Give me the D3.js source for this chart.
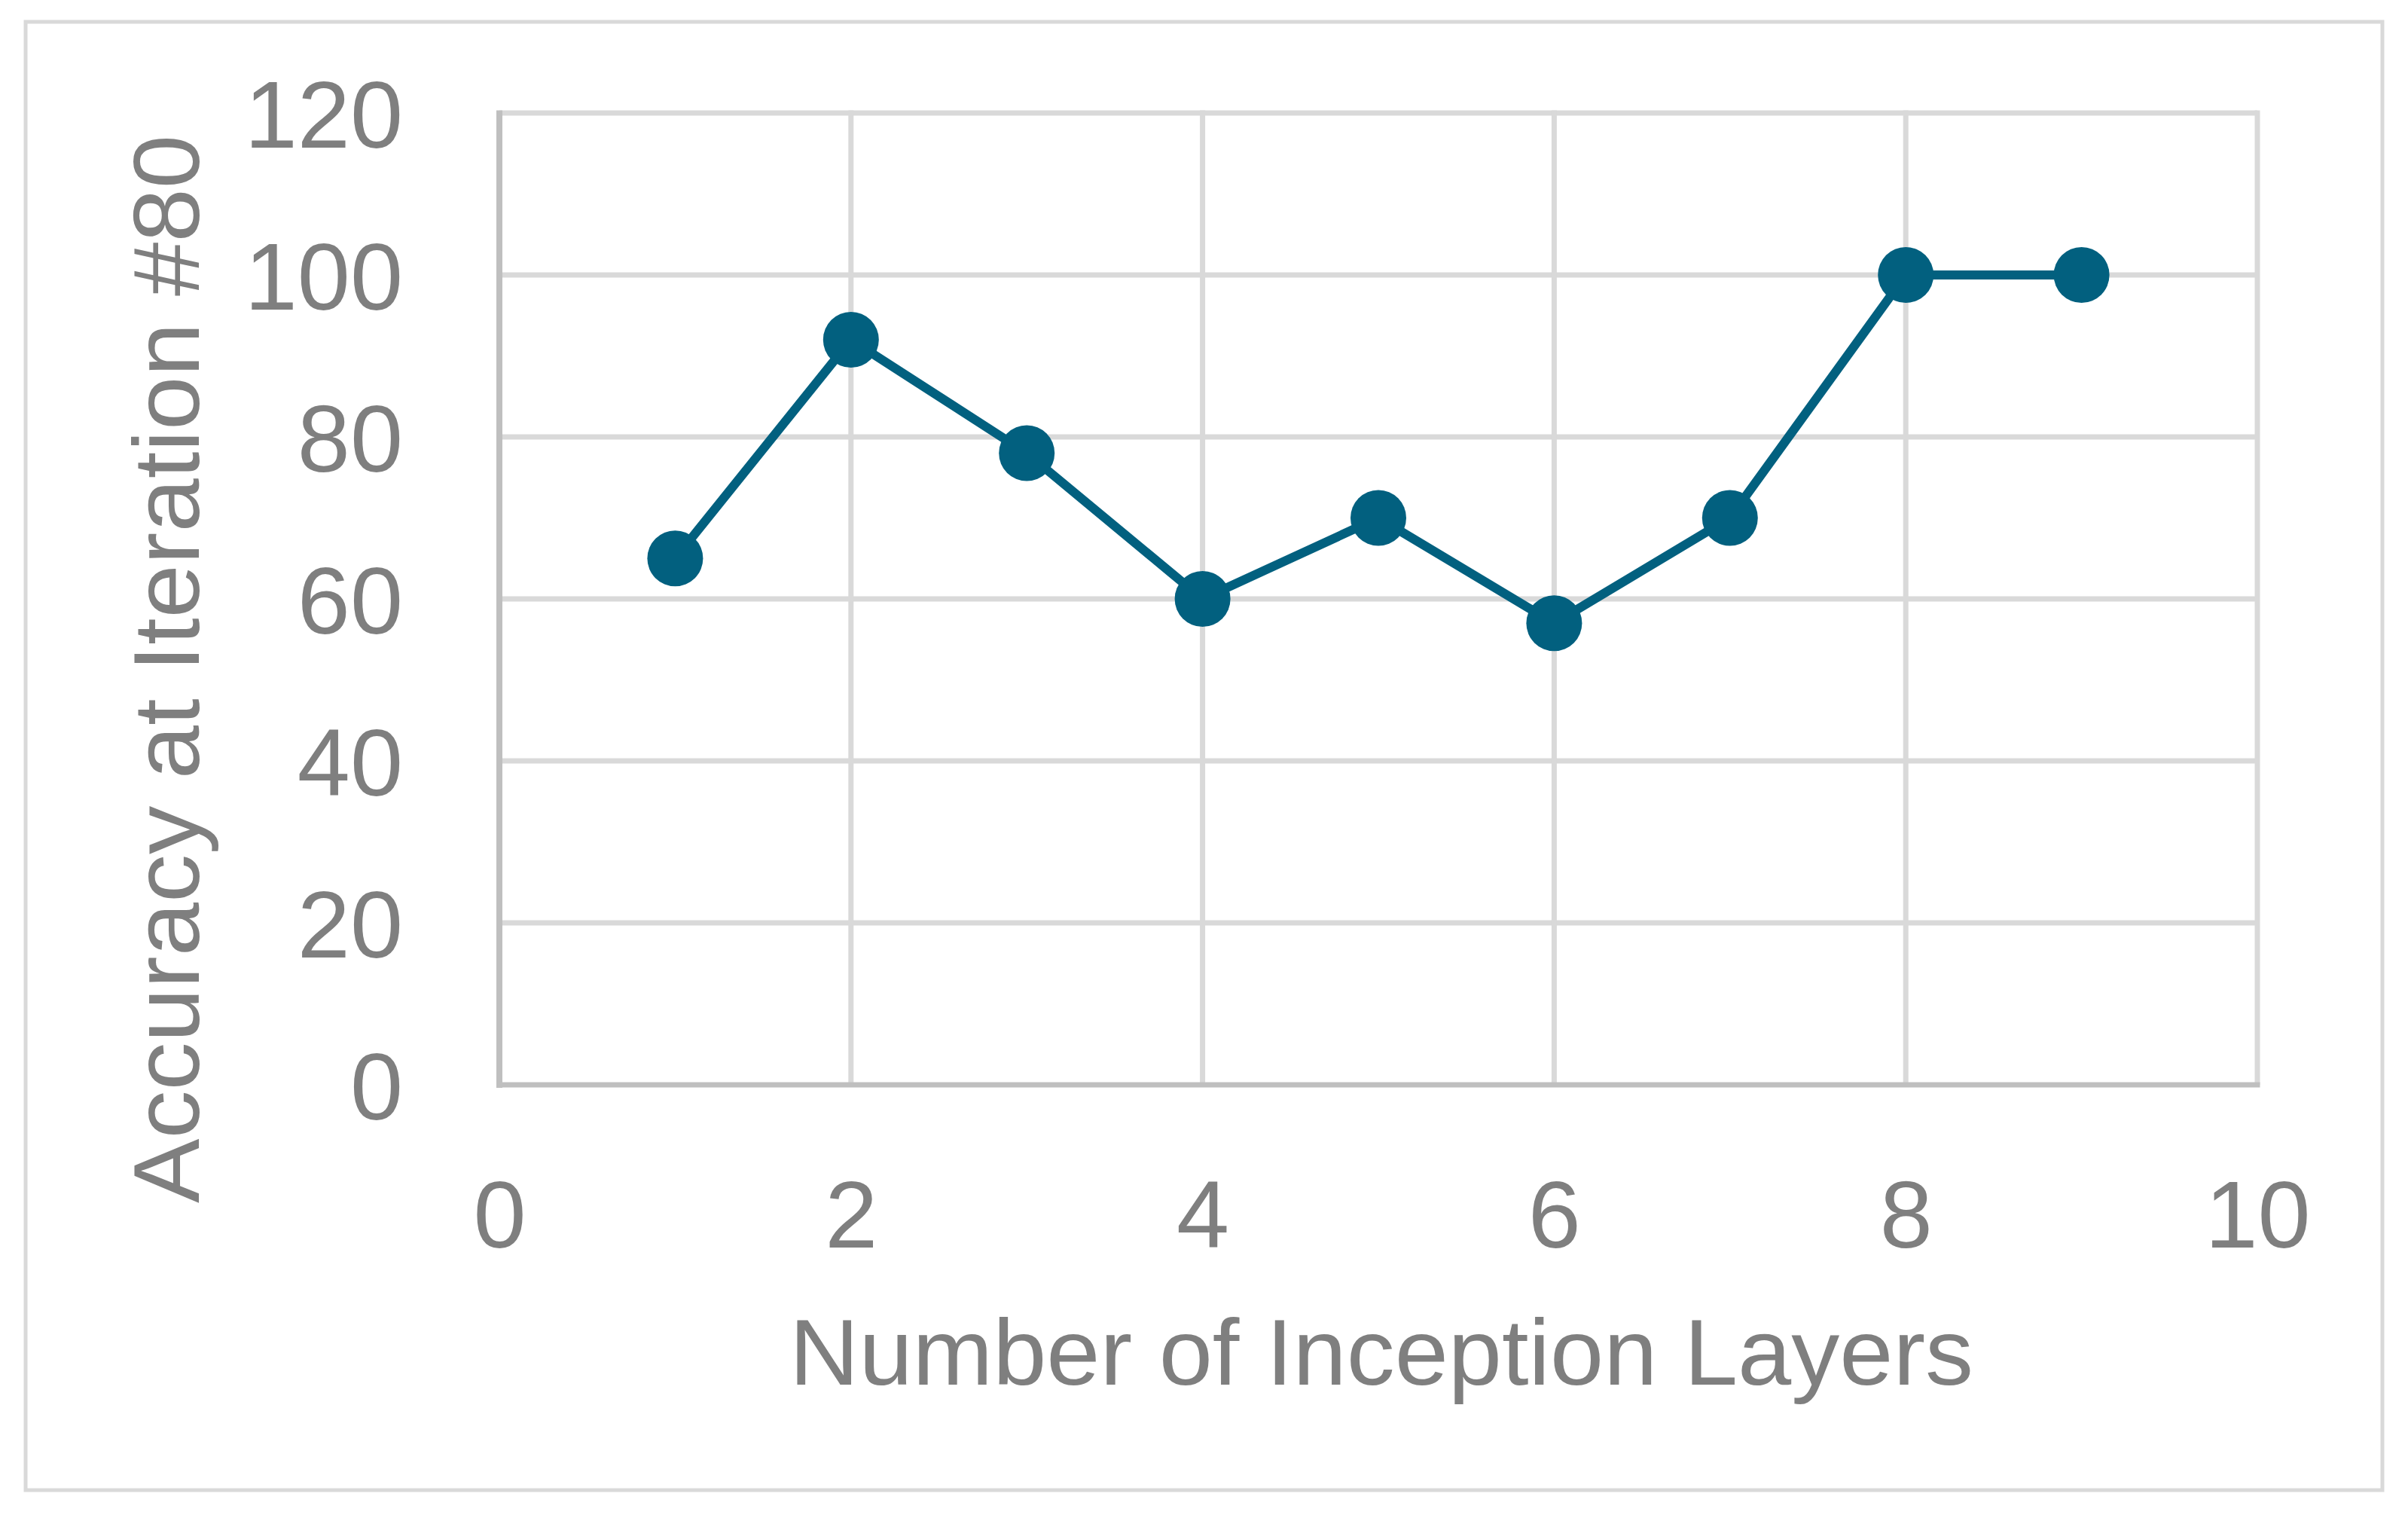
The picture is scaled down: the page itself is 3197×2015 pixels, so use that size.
<!DOCTYPE html>
<html>
<head>
<meta charset="utf-8">
<script src="https://cdn.jsdelivr.net/npm/d3@7"></script>
<style>
  html, body { margin: 0; padding: 0; background: #ffffff; }
  svg { display: block; }
  text { font-family: "Liberation Sans", Arial, sans-serif; fill: #7f7f7f; }
</style>
</head>
<body>
<svg id="chart" width="3197" height="2015"></svg>
<script>
const layers = [1, 2, 3, 4, 5, 6, 7, 8, 9];
const accuracy = [65, 92, 78, 60, 70, 57, 70, 100, 100];
const xTicks = [0, 2, 4, 6, 8, 10];
const yTicks = [0, 20, 40, 60, 80, 100, 120];
const xTitle = "Number of Inception Layers";
const yTitle = "Accuracy at Iteration #80";

const svg = d3.select("#chart");
const W = 3197, H = 2015;
const plot = { left: 663, right: 2997, top: 150, bottom: 1440 };

svg.append("rect").attr("x", 0).attr("y", 0).attr("width", W).attr("height", H).attr("fill", "#fff");
svg.append("rect")
  .attr("x", 34).attr("y", 29).attr("width", 3163 - 34).attr("height", 1978 - 29)
  .attr("fill", "none").attr("stroke", "#d9d9d9").attr("stroke-width", 5);

const x = d3.scaleLinear().domain([0, 10]).range([plot.left, plot.right]);
const y = d3.scaleLinear().domain([0, 120]).range([plot.bottom, plot.top]);

// gridlines
const grid = svg.append("g");
grid.selectAll("line.h").data(yTicks.filter(d => d > 0)).join("line")
  .attr("x1", plot.left).attr("x2", plot.right)
  .attr("y1", d => y(d)).attr("y2", d => y(d))
  .attr("stroke", "#d9d9d9").attr("stroke-width", 7);
grid.selectAll("line.v").data(xTicks.filter(d => d > 0)).join("line")
  .attr("x1", d => x(d)).attr("x2", d => x(d))
  .attr("y1", plot.top - 3.5).attr("y2", plot.bottom)
  .attr("stroke", "#d9d9d9").attr("stroke-width", 7);

// axes lines
svg.append("line").attr("x1", plot.left).attr("x2", plot.left)
  .attr("y1", plot.top - 3.5).attr("y2", plot.bottom + 4)
  .attr("stroke", "#bfbfbf").attr("stroke-width", 8);
svg.append("line").attr("x1", plot.left - 4).attr("x2", plot.right + 3.5)
  .attr("y1", plot.bottom).attr("y2", plot.bottom)
  .attr("stroke", "#bfbfbf").attr("stroke-width", 7);

// axis labels via d3 axes (no domain / tick lines)
const yAxis = svg.append("g").attr("transform", `translate(${plot.left - 128},0)`)
  .call(d3.axisLeft(y).tickValues(yTicks).tickSize(0).tickPadding(0));
yAxis.select(".domain").remove();
yAxis.selectAll("text").attr("font-size", 126).attr("dy", "0.36em")
  .style("font-family", "'Liberation Sans', Arial, sans-serif").style("fill", "#7f7f7f");

const xAxis = svg.append("g").attr("transform", `translate(0,${plot.bottom})`)
  .call(d3.axisBottom(x).tickValues(xTicks).tickSize(0).tickPadding(0));
xAxis.select(".domain").remove();
xAxis.selectAll("text").attr("font-size", 126).attr("dy", 0).attr("y", 216)
  .style("font-family", "'Liberation Sans', Arial, sans-serif").style("fill", "#7f7f7f");

// titles
svg.append("text").attr("x", (plot.left + plot.right) / 2 + 4).attr("y", 1838)
  .attr("text-anchor", "middle").attr("font-size", 124)
  .attr("textLength", 1572).attr("lengthAdjust", "spacingAndGlyphs")
  .text(xTitle);
svg.append("text")
  .attr("transform", `translate(264,888) rotate(-90)`)
  .attr("text-anchor", "middle").attr("font-size", 124)
  .attr("textLength", 1418).attr("lengthAdjust", "spacingAndGlyphs")
  .text(yTitle);

// series
const pts = layers.map((d, i) => [d, accuracy[i]]);
svg.append("path").datum(pts)
  .attr("d", d3.line().x(d => x(d[0])).y(d => y(d[1])))
  .attr("fill", "none").attr("stroke", "#02607f").attr("stroke-width", 12)
  .attr("stroke-linejoin", "round");
svg.selectAll("circle.pt").data(pts).join("circle")
  .attr("cx", d => x(d[0])).attr("cy", d => y(d[1])).attr("r", 37)
  .attr("fill", "#02607f");
</script>
</body>
</html>
